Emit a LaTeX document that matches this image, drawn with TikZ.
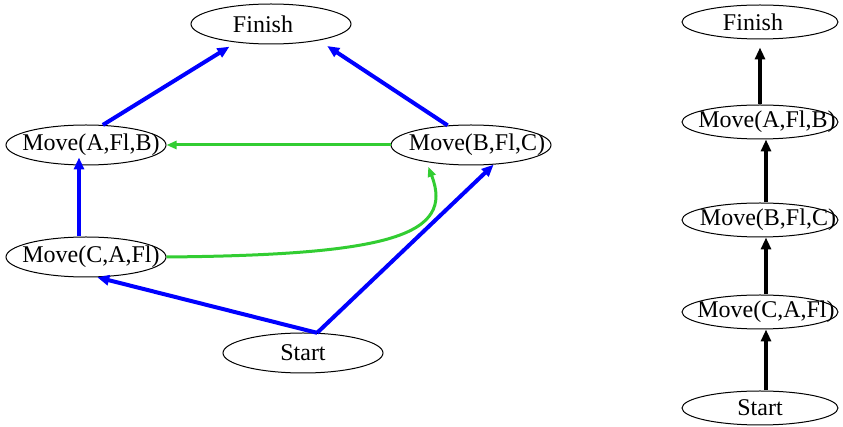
\documentclass[tikz,border=0pt]{standalone}
\usepackage{fontspec}
\setmainfont{Liberation Serif}
\usetikzlibrary{shapes.geometric, arrows.meta}
\definecolor{linkblue}{RGB}{0,0,255}
\definecolor{linkgreen}{RGB}{50,205,50}
\newcommand{\actlabel}[2][0pt]{\makebox[0pt]{\hspace*{#1}#2}}
\tikzset{act/.style = {ellipse,draw,line width=0.5pt,inner sep=0pt,minimum width=80pt,minimum height=20pt,font=\fontsize{12pt}{14pt}\selectfont}}
\tikzset{order/.style = {act,minimum width=78pt,minimum height=17pt}}
\tikzset{link/.style = {line width=2pt,-{Triangle[length=6pt,width=5pt]}}}
\tikzset{threat/.style = {line width=1.5pt,linkgreen,-{Triangle[length=5pt,width=4pt]}}}

\begin{document}
\begin{tikzpicture}[x=0.5pt,y=-0.5pt]
\useasboundingbox (0,0) rectangle (843,427);
% partial-order plan
\node [act] (fin) at (271,24) {\actlabel[-8pt]{Finish}};
\node [act] (mAB) at (86,145) {\actlabel[5pt]{Move(A,Fl,B)}};
\node [act] (mBC) at (471,145) {\actlabel[6pt]{Move(B,Fl,C)}};
\node [act] (mCA) at (86,257) {\actlabel[5pt]{Move(C,A,Fl)}};
\node [act] (start) at (303,353) {\actlabel{Start}};
\draw [link,linkblue,shorten >=4pt] (mAB.50) -- (fin.208);
\draw [link,linkblue,shorten >=5pt] (mBC.140) -- (fin.341);
\draw [link,linkblue,shorten >=-4pt] ([xshift=-3.5pt]mCA.north) -- ([xshift=-3.5pt]mAB.south);
\draw [link,linkblue] (start.55) -- (mCA.299);
\draw [link,linkblue] (start.55) -- (mBC.319);
\draw [threat] (mBC.west) -- (mAB.east);
\draw [threat,shorten >=2.5pt] (mCA.east) .. controls +(224,-2) and +(28,73) .. (mBC.201);
% total order
\foreach \nm/\y/\s/\txt in {rfin/22/-7pt/Finish, rmAB/122/7pt/{Move(A,Fl,B)}, rmBC/220/8pt/{Move(B,Fl,C)}, rmCA/312/6pt/{Move(C,A,Fl)}, rstart/408/0pt/Start} {
    \node [order] (\nm) at (760,\y) {\actlabel[\s]{\txt}};
}
\draw [link,shorten >=4pt] (rmAB.north) -- (rfin.south);
\foreach \a/\b in {rstart/rmCA, rmCA/rmBC, rmBC/rmAB} {
    \draw [link] ([xshift=3pt]\a.north) -- ([xshift=3pt]\b.south);
}
\end{tikzpicture}
\end{document}
